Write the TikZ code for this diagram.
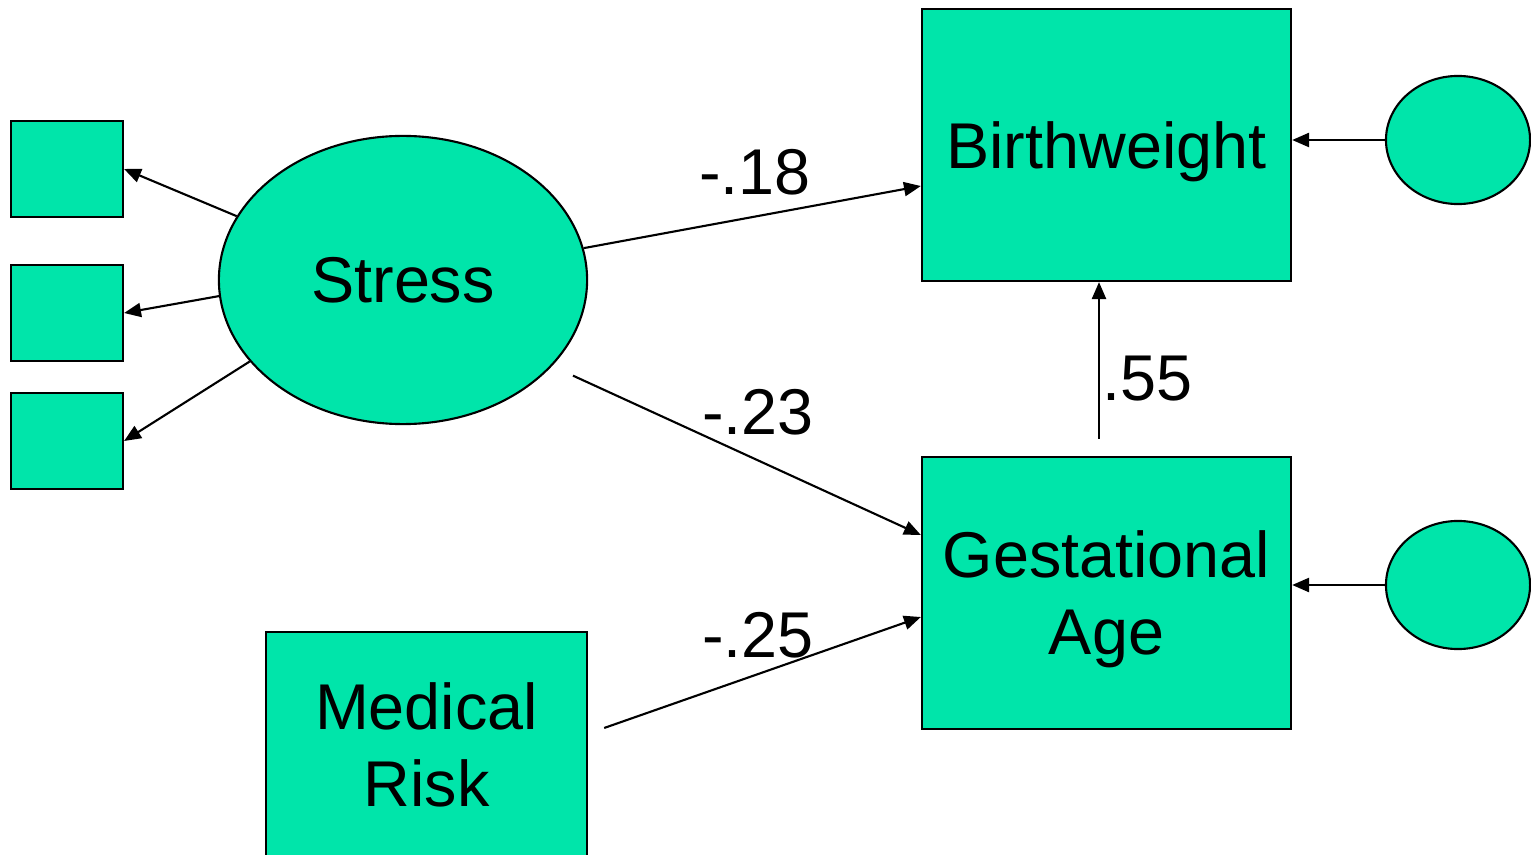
\documentclass[tikz,border=0pt]{standalone}
\usepackage{fontspec}
\setmainfont{Liberation Sans}
\usetikzlibrary{arrows.meta,shapes.geometric}
\definecolor{semgreen}{RGB}{0,229,170}
\tikzset{
	varbox/.style={draw, line width=0.6pt, fill=semgreen, rectangle, inner sep=0pt, align=center, text depth=0pt},
	latent/.style={draw, line width=0.6pt, fill=semgreen, ellipse, inner sep=0pt, text depth=0pt},
	pathline/.style={->, line width=0.6pt}
}
\begin{document}
\begin{tikzpicture}[x=0.01cm, y=-0.01cm, >={Triangle[length=4.8pt,width=4pt]}, font=\fontsize{18.4pt}{21.9pt}\selectfont]
		\useasboundingbox (0,0) rectangle (1531,855);
		%--- Latent stress and its indicators ---
		\node[latent, minimum width=3.68cm, minimum height=2.88cm] (stress) at (403,280) {Stress};
		\node[varbox, minimum width=1.12cm, minimum height=0.96cm] (ind1) at (67,169) {};
		\node[varbox, minimum width=1.12cm, minimum height=0.96cm] (ind2) at (67,313) {};
		\node[varbox, minimum width=1.12cm, minimum height=0.96cm] (ind3) at (67,441) {};
		\draw[pathline] (stress.159) -- (ind1.east);
		\draw[pathline] (stress.185) -- (ind2.east);
		\draw[pathline] (stress.208) -- (ind3.east);

		%--- Observed variables ---
		\node[varbox, minimum width=3.69cm, minimum height=2.72cm] (birth) at (1106.5,145) {Birthweight};
		\node[varbox, minimum width=3.69cm, minimum height=2.72cm] (gest) at (1106.5,593) {Gestational\\Age};
		\node[varbox, minimum width=3.21cm, minimum height=2.26cm] (med) at (426.5,745) {Medical\\Risk};

		%--- Disturbances ---
		\node[latent, minimum width=1.44cm, minimum height=1.28cm] (err1) at (1458,140) {};
		\node[latent, minimum width=1.44cm, minimum height=1.28cm] (err2) at (1458,585) {};
		\draw[pathline] (err1.west) -- (err1.west -| birth.east);
		\draw[pathline] (err2.west) -- (err2.west -| gest.east);

		%--- Structural paths ---
		\draw[pathline] (stress.10) -- ([yshift=-0.41cm]birth.west);
		\draw[pathline, shorten <=0.23cm] (stress.-30) -- ([yshift=0.58cm]gest.west);
		\draw[pathline, shorten <=0.17cm] ([yshift=0.114cm]med.east) -- ([yshift=-0.24cm]gest.west);
		\draw[pathline, shorten <=0.17cm] ([xshift=-0.075cm]gest.north) -- ([xshift=-0.075cm]birth.south);

		% Path coefficients
		\node (c18) at (755,172) {-.18};
		\node (c23) at (758,412) {-.23};
		\node (c25) at (758,635) {-.25};
		\node (c55) at (1147,379) {.55};
	\end{tikzpicture}
\end{document}
